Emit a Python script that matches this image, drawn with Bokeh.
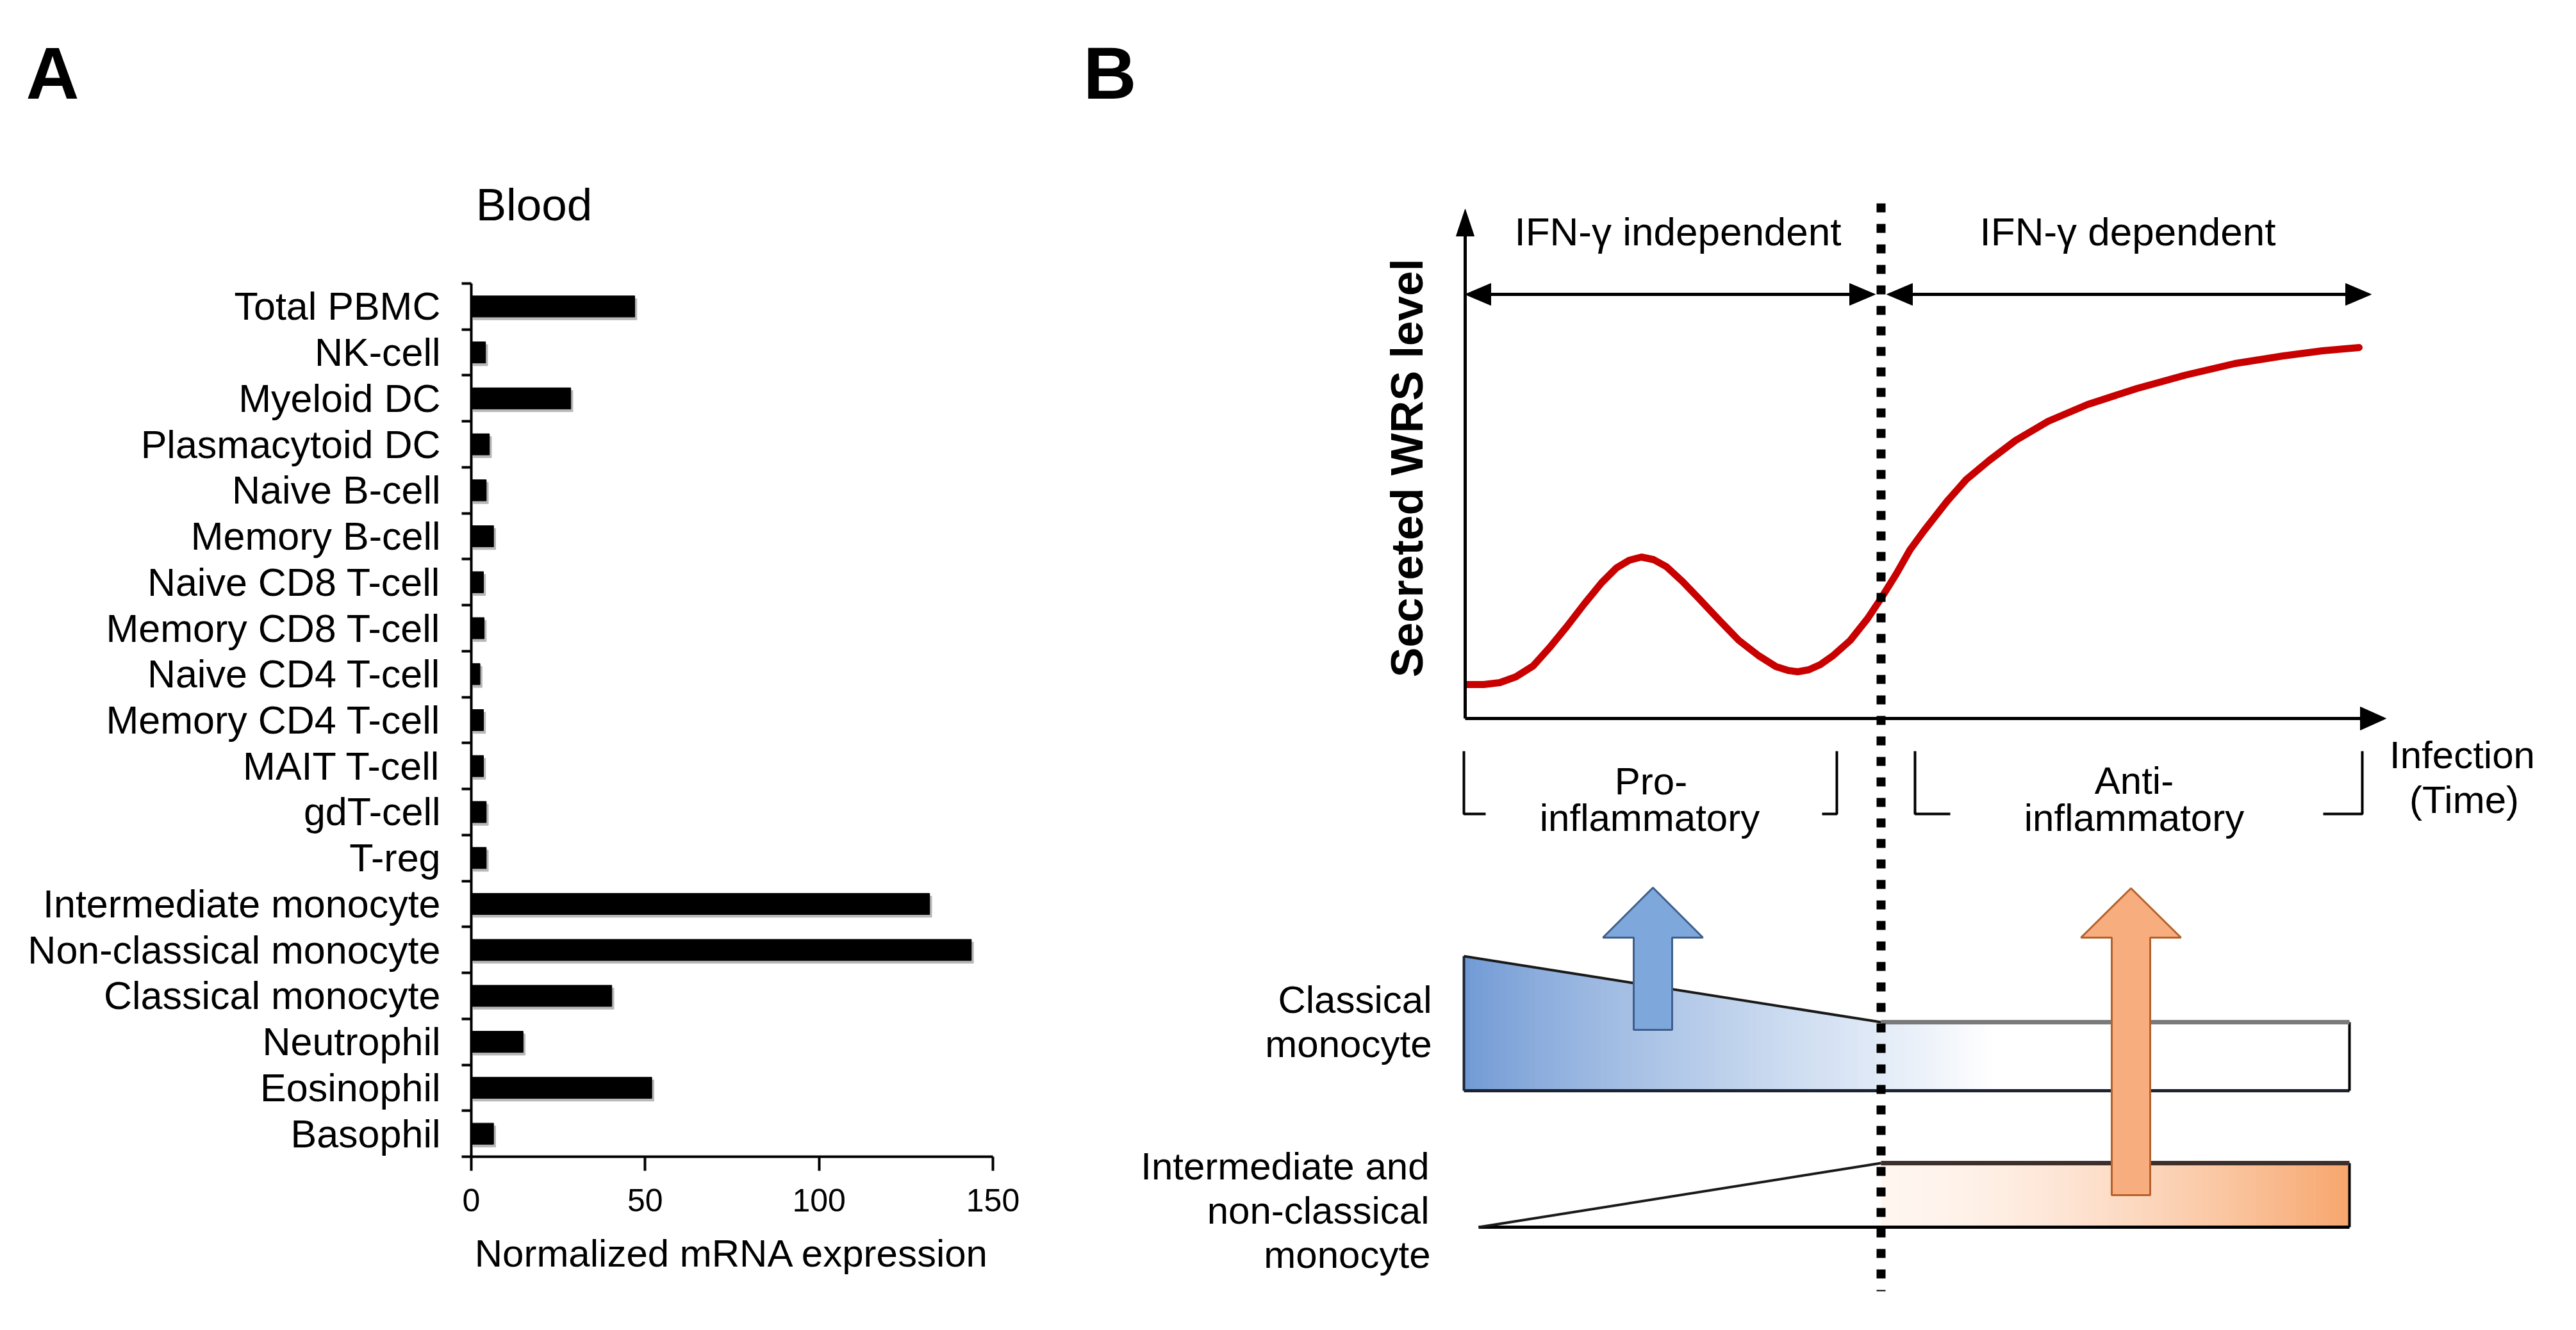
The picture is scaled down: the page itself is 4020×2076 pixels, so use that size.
import numpy as np
from bokeh.plotting import figure
from bokeh.models import Range1d, FixedTicker, ColumnDataSource, LinearAxis
from bokeh.embed import file_html
from bokeh.resources import INLINE
from bokeh.core.properties import value

FONT = "Liberation Sans"

# ---------------- data: panel A ----------------
cell_types = ["Total PBMC", "NK-cell", "Myeloid DC", "Plasmacytoid DC", "Naive B-cell",
              "Memory B-cell", "Naive CD8 T-cell", "Memory CD8 T-cell", "Naive CD4 T-cell",
              "Memory CD4 T-cell", "MAIT T-cell", "gdT-cell", "T-reg", "Intermediate monocyte",
              "Non-classical monocyte", "Classical monocyte", "Neutrophil", "Eosinophil", "Basophil"]
expression = [47.0, 4.1, 28.6, 5.2, 4.3, 6.4, 3.5, 3.7, 2.5, 3.5, 3.5, 4.3, 4.3,
              131.8, 143.8, 40.4, 14.9, 51.9, 6.4]
x_ticks = [0, 50, 100, 150]

# ---------------- data: panel B curve (schematic units) ----------------
curve_time = [2289, 2315, 2340, 2365, 2392, 2418, 2445, 2472, 2499, 2522, 2542, 2561, 2580,
              2600, 2625, 2651, 2682, 2713, 2744, 2771, 2790, 2805, 2822, 2840, 2860, 2887,
              2914, 2936, 2959, 2980, 3002, 3038, 3068, 3104, 3145, 3196, 3257, 3334, 3410,
              3487, 3563, 3624, 3681]
curve_level = [1068, 1068, 1065, 1056, 1039, 1010, 977, 942, 909, 886, 874, 869, 873,
               884, 907, 934, 967, 999, 1023, 1040, 1046, 1048, 1045, 1037, 1023, 999,
               965, 932, 895, 858, 828, 782, 748, 718, 687, 657, 631, 606, 585,
               567, 555, 547, 542]

PAGE_W, PAGE_H = 4016, 2072
X_MIN, Y_MIN = 0, 0
X_MAX, Y_MAX = X_MIN + PAGE_W, Y_MIN + PAGE_H

p = figure(width=PAGE_W, height=PAGE_H, x_range=Range1d(X_MIN, X_MAX), y_range=Range1d(Y_MAX, Y_MIN),
           output_backend="svg", toolbar_location=None, min_border=0,
           x_axis_location=None, y_axis_location=None)
p.outline_line_color = None
p.grid.visible = False
p.background_fill_color = "white"
p.border_fill_color = "white"

# ================= Panel A: bar chart on its own ranges =================
n = len(cell_types)
centers = [i + 0.5 for i in range(n)]
bounds = list(range(n + 1))

FR_L, FR_R, FR_T, FR_B = 735, 1549, 442, 1805
px_unit = (FR_R - FR_L) / 150.0
px_cat = (FR_B - FR_T) / float(n)
p.extra_x_ranges = {"expr": Range1d(-(FR_L - X_MIN) / px_unit, 150 + (X_MAX - FR_R) / px_unit)}
p.extra_y_ranges = {"cells": Range1d(n + (Y_MAX - FR_B) / px_cat, -(FR_T - Y_MIN) / px_cat)}

src = ColumnDataSource(dict(y=centers, right=expression,
                            ys=[c + 0.06 for c in centers],
                            rs=[v + 0.6 for v in expression]))
p.hbar(y="ys", left=0.6, right="rs", height=0.46, color="#b8b8b8", source=src,
       x_range_name="expr", y_range_name="cells")
p.hbar(y="y", left=0, right="right", height=0.46, color="black", source=src,
       x_range_name="expr", y_range_name="cells")

xa = LinearAxis(x_range_name="expr", y_range_name="cells", fixed_location=n, bounds=(0, 150),
                ticker=FixedTicker(ticks=x_ticks))
xa.axis_label = "Normalized mRNA expression"
xa.axis_label_text_font = FONT
xa.axis_label_text_font_size = "60px"
xa.axis_label_text_font_style = "normal"
xa.axis_label_text_color = "black"
xa.axis_label_standoff = 29
xa.major_label_text_font = FONT
xa.major_label_text_font_size = "50px"
xa.major_label_text_color = "black"
xa.major_label_standoff = 28
xa.axis_line_width = 4
xa.axis_line_color = "black"
xa.major_tick_line_width = 4
xa.major_tick_line_color = "black"
xa.major_tick_out = 22
xa.major_tick_in = 0
xa.minor_tick_line_color = None
p.add_layout(xa, "below")

ya = LinearAxis(x_range_name="expr", y_range_name="cells", fixed_location=0, bounds=(0, n),
                ticker=FixedTicker(ticks=centers, minor_ticks=bounds))
ya.major_label_overrides = {c: name for c, name in zip(centers, cell_types)}
ya.major_label_text_font = FONT
ya.major_label_text_font_size = "61px"
ya.major_label_text_color = "black"
ya.major_label_standoff = 33
ya.major_tick_line_color = None
ya.major_tick_out = 0
ya.major_tick_in = 0
ya.minor_tick_line_color = "black"
ya.minor_tick_line_width = 4
ya.minor_tick_out = 15
ya.minor_tick_in = 0
ya.axis_line_width = 4
ya.axis_line_color = "black"
p.add_layout(ya, "left")

def txt(x, y, s, size="60px", align="center", style="normal", angle=0.0):
    p.text(x=[x], y=[y], text=[s], text_font=value(FONT), text_font_size=size,
           text_align=align, text_baseline="alphabetic", text_color="black",
           text_font_style=style, angle=angle)

txt(40, 113, "A", size="115px", align="left", style="bold")
txt(833, 319, "Blood", size="71px")

# ================= Panel B schematic =================
def lerp_col(c0, c1, t):
    r = [int(round(a + (b - a) * t)) for a, b in zip(c0, c1)]
    return "#%02x%02x%02x" % tuple(r)

AX_X, AX_Y = 2286, 1121
DOT_X = 2935
BOX_R = 3666
CL_TOP_L, CL_TOP_R, CL_BOT = 1492, 1595, 1702
CL_L = 2284
IN_TOP, IN_BOT, IN_L = 1815, 1915, 2307

blue0, blue1 = (112, 153, 212), (226, 235, 247)
xs_s, ys_s, cols = [], [], []
NS = 70
for i in range(NS):
    xa0 = CL_L + (DOT_X - CL_L) * i / NS
    xa1 = CL_L + (DOT_X - CL_L) * (i + 1) / NS + 0.8
    t0 = CL_TOP_L + (xa0 - CL_L) * (CL_TOP_R - CL_TOP_L) / (DOT_X - CL_L)
    t1 = CL_TOP_L + (min(xa1, DOT_X) - CL_L) * (CL_TOP_R - CL_TOP_L) / (DOT_X - CL_L)
    xs_s.append([xa0, xa1, xa1, xa0])
    ys_s.append([t0, t1, CL_BOT, CL_BOT])
    cols.append(lerp_col(blue0, blue1, (i / NS) ** 0.8))
for i in range(25):
    xa0 = DOT_X + 180 * i / 25
    xa1 = DOT_X + 180 * (i + 1) / 25 + 0.8
    xs_s.append([xa0, xa1, xa1, xa0])
    ys_s.append([CL_TOP_R, CL_TOP_R, CL_BOT, CL_BOT])
    cols.append(lerp_col(blue1, (255, 255, 255), i / 24))
or0, or1 = (255, 246, 240), (247, 165, 108)
for i in range(NS):
    xa0 = DOT_X + (BOX_R - DOT_X) * i / NS
    xa1 = DOT_X + (BOX_R - DOT_X) * (i + 1) / NS + 0.8
    xs_s.append([xa0, min(xa1, BOX_R), min(xa1, BOX_R), xa0])
    ys_s.append([IN_TOP, IN_TOP, IN_BOT, IN_BOT])
    cols.append(lerp_col(or0, or1, (i / NS) ** 1.6))
p.patches(xs_s, ys_s, fill_color=cols, line_color=None)

p.multi_line(
    [[CL_L, CL_L], [CL_L, DOT_X], [CL_L, BOX_R], [BOX_R, BOX_R], [IN_L, BOX_R], [IN_L, DOT_X], [BOX_R, BOX_R]],
    [[CL_TOP_L, CL_BOT], [CL_TOP_L, CL_TOP_R], [CL_BOT, CL_BOT], [CL_TOP_R, CL_BOT], [IN_BOT, IN_BOT],
     [IN_BOT, IN_TOP], [IN_TOP, IN_BOT]],
    line_color=["#1c2333", "#1a1a1a", "#1c2333", "black", "black", "#1a1a1a", "black"],
    line_width=[4, 4, 5, 4, 5, 4, 4])
p.line([DOT_X, BOX_R], [CL_TOP_R, CL_TOP_R], line_color="#7a7a7a", line_width=7)
p.line([DOT_X, BOX_R], [IN_TOP, IN_TOP], line_color="#3d302a", line_width=7)

def block_arrow(cx, tip, head_base, bottom, hw_head, hw_shaft):
    return ([cx, cx + hw_head, cx + hw_shaft, cx + hw_shaft, cx - hw_shaft, cx - hw_shaft, cx - hw_head],
            [tip, head_base, head_base, bottom, bottom, head_base, head_base])

bx, by = block_arrow(2579, 1385, 1463, 1607, 78, 30)
p.patch(bx, by, fill_color="#7ea7dc", line_color="#3f5f8a", line_width=3)
ox, oy = block_arrow(3325, 1386, 1463, 1865, 78, 30)
p.patch(ox, oy, fill_color="#f8ad7f", line_color="#b5612b", line_width=3)

p.line(curve_time, curve_level, line_color="#c80000", line_width=11, line_join="round", line_cap="round")

p.line([AX_X, AX_X], [AX_Y, 360], line_color="black", line_width=5)
p.line([AX_X, 3690], [AX_Y, AX_Y], line_color="black", line_width=5)

def tri(tip_x, tip_y, dx, dy, length, hw):
    bx_, by_ = tip_x - dx * length, tip_y - dy * length
    px_, py_ = -dy, dx
    return ([tip_x, bx_ + px_ * hw, bx_ - px_ * hw], [tip_y, by_ + py_ * hw, by_ - py_ * hw])

heads = [tri(AX_X, 326, 0, -1, 42, 14), tri(3723, AX_Y, 1, 0, 40, 18),
         tri(2286, 459, -1, 0, 40, 17), tri(2926, 459, 1, 0, 40, 17),
         tri(2944, 459, -1, 0, 40, 17), tri(3700, 459, 1, 0, 40, 17)]
p.patches([h[0] for h in heads], [h[1] for h in heads], fill_color="black", line_color="black", line_width=1)
p.multi_line([[2290, 2920], [2948, 3696]], [[459, 459], [459, 459]], line_color="black", line_width=5)

p.multi_line([[2318, 2284, 2284], [2843, 2866, 2866], [3043, 2988, 2988], [3625, 3686, 3686]],
             [[1270, 1270, 1172], [1270, 1270, 1172], [1270, 1270, 1172], [1270, 1270, 1172]],
             line_color="black", line_width=4)

p.line([DOT_X, DOT_X], [317, 2015], line_color="black", line_width=14, line_dash="14 18", line_cap="butt")

txt(2618, 361, "IFN-γ independent", "62px")
txt(3320, 361, "IFN-γ dependent", "62px")
txt(2576, 1219, "Pro-")
txt(2574, 1276, "inflammatory")
txt(3330, 1218, "Anti-")
txt(3330, 1276, "inflammatory")
txt(3842, 1178, "Infection")
txt(3845, 1248, "(Time)")
txt(2234, 1560, "Classical", align="right")
txt(2234, 1629, "monocyte", align="right")
txt(2230, 1820, "Intermediate and", align="right")
txt(2230, 1889, "non-classical", align="right")
txt(2232, 1958, "monocyte", align="right")
txt(1690, 113, "B", size="115px", align="left", style="bold")
txt(2195, 730, "Secreted WRS level", size="70px", style="bold", angle=np.pi / 2)

open("out.html", "w").write(file_html(p, INLINE))
